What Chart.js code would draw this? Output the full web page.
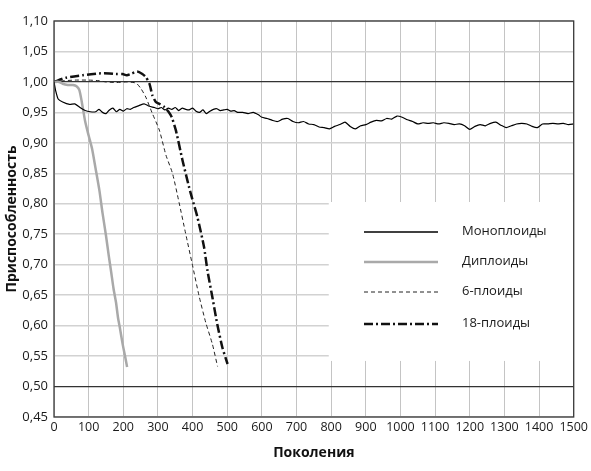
<!DOCTYPE html>
<html>
<head>
<meta charset="utf-8">
<script src="https://cdn.jsdelivr.net/npm/chart.js@4.4.1/dist/chart.umd.min.js"></script>
<style>
  html, body { margin: 0; padding: 0; background: #fff; }
  #wrap { width: 591px; height: 471px; }
</style>
</head>
<body>
<div id="wrap"><canvas id="chart" width="591" height="471"></canvas></div>
<script>
const monoX = [0, 5, 12, 25, 45, 60, 75, 90, 105, 120, 130, 140, 150, 160, 170, 180, 190, 200, 210, 220, 230, 245, 260, 275, 290, 300, 310, 320, 330, 340, 350, 360, 370, 380, 390, 400, 410, 420, 430, 440, 450, 460, 470, 480, 490, 500, 510, 520, 530, 545, 560, 575, 590, 600, 615, 630, 645, 660, 675, 690, 705, 720, 735, 750, 765, 780, 795, 810, 825, 840, 855, 870, 885, 900, 915, 930, 945, 960, 975, 990, 1005, 1020, 1035, 1050, 1065, 1080, 1095, 1110, 1125, 1140, 1155, 1170, 1185, 1200, 1215, 1230, 1245, 1260, 1275, 1290, 1305, 1320, 1335, 1350, 1365, 1380, 1395, 1410, 1425, 1440, 1455, 1470, 1485, 1500];
const monoY = [1.000, 0.985, 0.972, 0.967, 0.963, 0.964, 0.958, 0.953, 0.951, 0.951, 0.955, 0.950, 0.948, 0.954, 0.957, 0.951, 0.955, 0.952, 0.956, 0.955, 0.958, 0.961, 0.964, 0.960, 0.958, 0.956, 0.958, 0.954, 0.957, 0.955, 0.958, 0.953, 0.957, 0.955, 0.954, 0.957, 0.952, 0.950, 0.954, 0.948, 0.952, 0.955, 0.956, 0.953, 0.954, 0.955, 0.952, 0.953, 0.950, 0.950, 0.948, 0.950, 0.946, 0.942, 0.940, 0.937, 0.935, 0.939, 0.940, 0.935, 0.933, 0.935, 0.931, 0.930, 0.926, 0.925, 0.923, 0.927, 0.930, 0.934, 0.927, 0.923, 0.928, 0.930, 0.934, 0.937, 0.936, 0.940, 0.939, 0.944, 0.942, 0.938, 0.935, 0.931, 0.933, 0.932, 0.933, 0.931, 0.933, 0.932, 0.930, 0.931, 0.928, 0.922, 0.927, 0.930, 0.928, 0.932, 0.934, 0.929, 0.925, 0.928, 0.931, 0.932, 0.931, 0.927, 0.925, 0.931, 0.931, 0.932, 0.931, 0.932, 0.930, 0.931];

const diX = [0, 15, 25, 40, 55, 65, 73, 80, 90, 100, 110, 120, 131, 140, 150, 158, 165, 172, 179, 185, 190, 198, 205, 211];
const diY = [1.000, 1.000, 0.997, 0.995, 0.995, 0.993, 0.987, 0.968, 0.935, 0.912, 0.890, 0.858, 0.822, 0.785, 0.748, 0.715, 0.688, 0.660, 0.638, 0.612, 0.597, 0.570, 0.550, 0.532];

const hexX = [0, 30, 60, 100, 130, 150, 180, 210, 237, 251, 265, 284, 304, 323, 342, 361, 380, 399, 419, 438, 457, 472];
const hexY = [1.000, 1.002, 1.003, 1.003, 1.002, 1.000, 0.999, 1.000, 0.998, 0.989, 0.975, 0.948, 0.921, 0.880, 0.850, 0.802, 0.751, 0.701, 0.648, 0.605, 0.570, 0.533];

const octX = [0, 35, 83, 131, 160, 179, 198, 210, 225, 240, 255, 265, 275, 284, 294, 304, 318, 332, 340, 352, 371, 390, 399, 414, 433, 443, 457, 471, 486, 501];
const octY = [1.000, 1.007, 1.011, 1.014, 1.014, 1.013, 1.013, 1.011, 1.014, 1.017, 1.013, 1.008, 0.998, 0.978, 0.967, 0.964, 0.959, 0.950, 0.942, 0.920, 0.871, 0.827, 0.808, 0.778, 0.729, 0.690, 0.647, 0.603, 0.564, 0.537];

const seriesNames = ['Моноплоиды', 'Диплоиды', '6-плоиды', '18-плоиды'];
const xTitle = 'Поколения';
const yTitle = 'Приспособленность';

const FONT = '"Open Sans", "Noto Sans", sans-serif';

function pts(xs, ys) {
    return xs.map((x, i) => ({ x: x, y: ys[i] }));
}

// белая подложка под легенду + рамка
const boxPlugin = {
    id: 'legendBox',
    beforeDatasetsDraw(chart) {
        const ctx = chart.ctx;
        const xs = chart.scales.x;
        const ys = chart.scales.y;
        const left = xs.getPixelForValue(793);
        const top = ys.getPixelForValue(0.8029);
        const right = chart.chartArea.right;
        const bottom = ys.getPixelForValue(0.542);
        ctx.save();
        ctx.fillStyle = '#fff';
        ctx.fillRect(left, top, right - left, bottom - top);
        ctx.restore();
    },
    afterDraw(chart) {
        const ctx = chart.ctx;
        const a = chart.chartArea;
        ctx.save();
        ctx.strokeStyle = '#3a3a3a';
        ctx.lineWidth = 1.3;
        ctx.strokeRect(a.left, a.top, a.right - a.left, a.bottom - a.top);

        // легенда
        const rowsY = [232, 262, 292, 324];
        chart.data.datasets.forEach((ds, i) => {
            const y = rowsY[i];
            ctx.beginPath();
            ctx.strokeStyle = ds.borderColor;
            ctx.lineWidth = i === 0 ? 1.5 : ds.borderWidth;
            ctx.setLineDash(ds.borderDash || []);
            ctx.moveTo(364, y);
            ctx.lineTo(438, y);
            ctx.stroke();
            ctx.setLineDash([]);
            ctx.fillStyle = '#1a1a1a';
            ctx.font = '13px ' + FONT;
            ctx.textBaseline = 'middle';
            ctx.fillText(ds.label, 462, y - 1);
        });
        ctx.restore();
    }
};

new Chart(document.getElementById('chart'), {
    type: 'line',
    data: {
        datasets: [
            { label: seriesNames[0], data: pts(monoX, monoY), borderColor: '#000', borderWidth: 1.2, tension: 0.2 },
            { label: seriesNames[1], data: pts(diX, diY), borderColor: '#a9a9a9', borderWidth: 2.5, tension: 0.2 },
            { label: seriesNames[2], data: pts(hexX, hexY), borderColor: '#222', borderWidth: 1, borderDash: [4, 3], tension: 0.2 },
            { label: seriesNames[3], data: pts(octX, octY), borderColor: '#111', borderWidth: 2.5, borderDash: [9, 3, 2, 3], tension: 0.2 }
        ]
    },
    options: {
        responsive: false,
        animation: false,
        parsing: false,
        elements: { point: { radius: 0 } },
        layout: { padding: { top: 21, right: 16, left: 0, bottom: 6 } },
        plugins: { legend: { display: false }, tooltip: { enabled: false } },
        scales: {
            x: {
                type: 'linear',
                min: 0,
                max: 1500,
                afterFit(scale) { scale.height = 48; },
                ticks: {
                    stepSize: 100,
                    autoSkip: false,
                    color: '#1a1a1a',
                    font: { family: FONT, size: 12.5 },
                    maxRotation: 0,
                    padding: 3,
                    callback: v => String(v)
                },
                grid: { color: '#c4c4c4', lineWidth: 1, drawTicks: false },
                border: { display: false },
                title: { display: true, text: xTitle, color: '#111', font: { family: FONT, size: 14, weight: 'bold' }, padding: { top: 0 } }
            },
            y: {
                min: 0.45,
                max: 1.10,
                afterFit(scale) { scale.width = 54; },
                ticks: {
                    stepSize: 0.05,
                    color: '#1a1a1a',
                    font: { family: FONT, size: 13 },
                    padding: 6,
                    callback: v => v.toFixed(2).replace('.', ',')
                },
                grid: {
                    drawTicks: false,
                    color: ctx => {
                        const v = Math.round(ctx.tick.value * 100);
                        return (v === 100 || v === 50) ? '#333' : '#d2d2d2';
                    },
                    lineWidth: ctx => {
                        const v = Math.round(ctx.tick.value * 100);
                        return (v === 100 || v === 50) ? 1.3 : 1.5;
                    }
                },
                border: { display: false },
                title: { display: true, text: yTitle, color: '#111', font: { family: FONT, size: 14, weight: 'bold' }, padding: { bottom: 0 } }
            }
        }
    },
    plugins: [boxPlugin]
});
</script>
</body>
</html>
